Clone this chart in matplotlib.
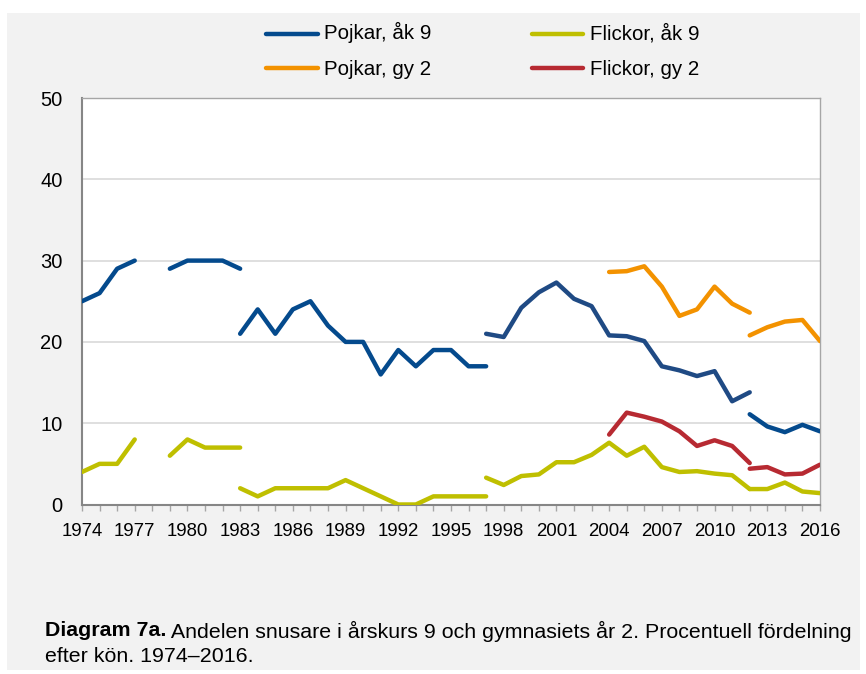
import matplotlib
matplotlib.use("Agg")
import matplotlib.pyplot as plt
from matplotlib.patches import Rectangle
from matplotlib.lines import Line2D

plt.rcParams['font.family'] = ['Liberation Sans', 'DejaVu Sans']

# ---- data (segments; series are broken where the survey changed) ----
years_a = [1974, 1975, 1976, 1977]
pojkar9_a = [25, 26, 29, 30]
flickor9_a = [4, 5, 5, 8]

years_b = [1979, 1980, 1981, 1982, 1983]
pojkar9_b = [29, 30, 30, 30, 29]
flickor9_b = [6, 8, 7, 7, 7]

years_c = list(range(1983, 1998))
pojkar9_c = [21, 24, 21, 24, 25, 22, 20, 20, 16, 19, 17, 19, 19, 17, 17]
flickor9_c = [2, 1, 2, 2, 2, 2, 3, 2, 1, 0, 0, 1, 1, 1, 1]

years_d = list(range(1997, 2013))
pojkar9_d = [21.0, 20.6, 24.2, 26.1, 27.3, 25.3, 24.4, 20.8, 20.7, 20.1,
             17.0, 16.5, 15.8, 16.4, 12.7, 13.8]
flickor9_d = [3.3, 2.4, 3.5, 3.7, 5.2, 5.2, 6.1, 7.6, 6.0, 7.1,
              4.6, 4.0, 4.1, 3.8, 3.6, 1.9]

years_e = list(range(2004, 2013))
pojkargy_e = [28.6, 28.7, 29.3, 26.8, 23.2, 24.0, 26.8, 24.7, 23.6]
flickorgy_e = [8.6, 11.3, 10.8, 10.2, 9.0, 7.2, 7.9, 7.2, 5.1]

years_f = list(range(2012, 2017))
pojkar9_f = [11.1, 9.6, 8.9, 9.8, 9.0]
flickor9_f = [1.9, 1.9, 2.7, 1.6, 1.4]
pojkargy_f = [20.8, 21.8, 22.5, 22.7, 20.1]
flickorgy_f = [4.4, 4.6, 3.7, 3.8, 4.9]

labels = ["Pojkar, åk 9", "Flickor, åk 9", "Pojkar, gy 2", "Flickor, gy 2"]
xtick_years = list(range(1974, 2017, 3))
yticks = [0, 10, 20, 30, 40, 50]

BLUE = "#044A8D"
BLUE2 = "#1F4A84"
YEL = "#BFBF00"
ORA = "#F39200"
RED = "#B72A32"
colors = [BLUE, YEL, ORA, RED]

W, H = 866, 674
fig = plt.figure(figsize=(W / 100, H / 100), dpi=100)
fig.patch.set_facecolor("white")
fig.add_artist(Rectangle((7 / W, 1 - 670 / H), 853 / W, 657 / H,
                         transform=fig.transFigure, facecolor="#F2F2F2",
                         edgecolor="none", zorder=0))


def fx(px):
    return px / W


def fy(py):
    return 1 - py / H


L, R, T, B = 82, 820, 98, 504.5
ax = fig.add_axes([fx(L), fy(B), (R - L) / W, (B - T) / H])
ax.set_facecolor("white")

lw = 3.2
kw = dict(lw=lw, solid_capstyle="round", solid_joinstyle="round", zorder=3)
ax.plot(years_a, pojkar9_a, color=BLUE, **kw)
ax.plot(years_b, pojkar9_b, color=BLUE, **kw)
ax.plot(years_c, pojkar9_c, color=BLUE, **kw)
ax.plot(years_d, pojkar9_d, color=BLUE2, **kw)
ax.plot(years_f, pojkar9_f, color=BLUE, **kw)

ax.plot(years_a, flickor9_a, color=YEL, **kw)
ax.plot(years_b, flickor9_b, color=YEL, **kw)
ax.plot(years_c, flickor9_c, color=YEL, **kw)
ax.plot(years_d, flickor9_d, color=YEL, **kw)
ax.plot(years_f, flickor9_f, color=YEL, **kw)

ax.plot(years_e, pojkargy_e, color=ORA, **kw)
ax.plot(years_f, pojkargy_f, color=ORA, **kw)
ax.plot(years_e, flickorgy_e, color=RED, **kw)
ax.plot(years_f, flickorgy_f, color=RED, **kw)

ax.set_xlim(1974, 2016)
ax.set_ylim(0, 50)
ax.set_yticks(yticks)
ax.set_xticks(xtick_years)
ax.set_xticks(range(1974, 2017), minor=True)
ax.grid(axis="y", color="#D9D9D9", lw=1.2, zorder=1)
for s in ax.spines.values():
    s.set_color("#868686")
    s.set_linewidth(1.5)
for k in ("top", "right"):
    ax.spines[k].set_color("#A6A6A6")
    ax.spines[k].set_linewidth(1.0)
ax.tick_params(axis="y", length=0, pad=14, labelsize=14.5, labelcolor="black")
ax.tick_params(axis="x", which="both", direction="out", length=4.5,
               color="#A6A6A6", width=1.0)
ax.tick_params(axis="x", which="major", pad=8.5, labelsize=13.4)

# legend (two rows, two columns, above the plot)
leg_pos = [(266, 318, 33.7, 324, 39),   # Pojkar, åk 9
           (532, 583, 33.7, 590, 39),   # Flickor, åk 9
           (266, 318, 67.7, 324, 75),   # Pojkar, gy 2
           (532, 583, 67.7, 590, 75)]   # Flickor, gy 2
for (x0, x1, yl, xt, yt), lab, c in zip(leg_pos, labels, colors):
    fig.add_artist(Line2D([fx(x0), fx(x1)], [fy(yl), fy(yl)],
                          transform=fig.transFigure, color=c, lw=lw,
                          solid_capstyle="round"))
    fig.text(fx(xt), fy(yt), lab, fontsize=14.8, va="baseline", ha="left")

# caption
cfs = 15.4
t0 = fig.text(fx(45), fy(631), "Diagram 7a.", fontsize=cfs,
              fontweight="bold", va="center", ha="left")
fig.canvas.draw()
bb = t0.get_window_extent()
fig.text(fx(45 + bb.width), fy(631),
         " Andelen snusare i årskurs 9 och gymnasiets år 2. Procentuell fördelning",
         fontsize=cfs, va="center", ha="left")
fig.text(fx(45), fy(656), "efter kön. 1974–2016.", fontsize=cfs,
         va="center", ha="left")

fig.savefig("out.png", dpi=100, facecolor="white")
